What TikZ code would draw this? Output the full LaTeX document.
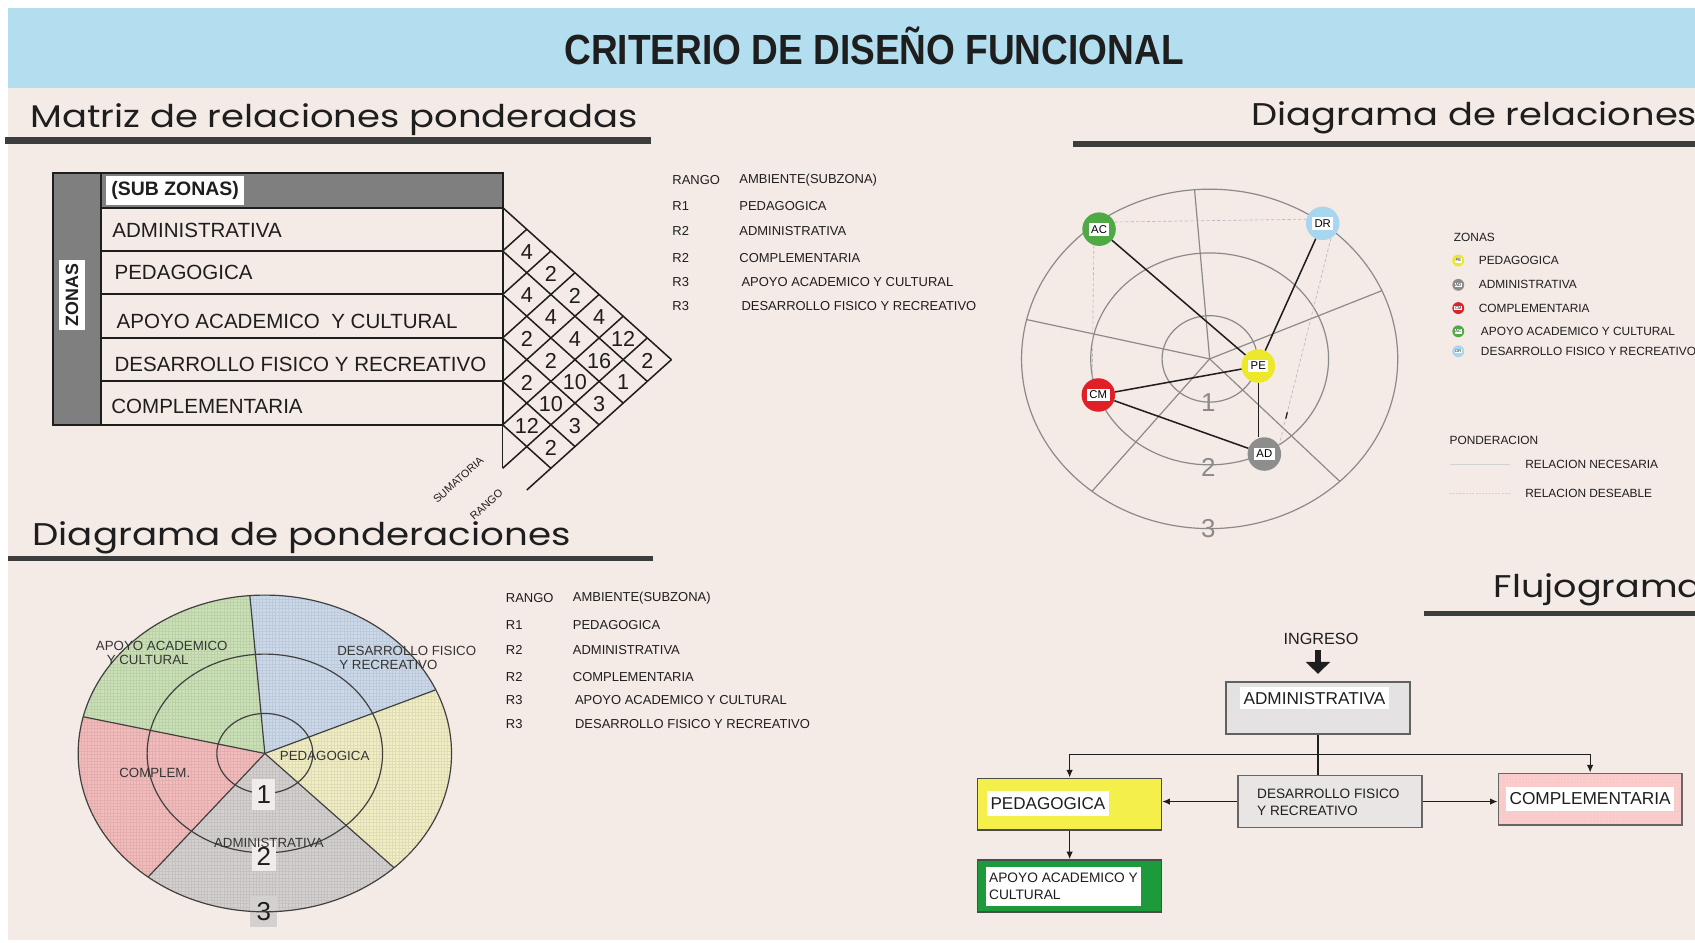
\documentclass[tikz,border=0pt]{standalone}
\usepackage{fontspec}
\usepackage{graphicx}
\setmainfont{Liberation Sans}
\newfontfamily\headfont{Poppins}
\usetikzlibrary{patterns,arrows.meta,calc}
\newcommand{\fsz}[1]{\fontsize{#1}{#1}\selectfont}
\newcommand{\zlab}[2]{\setlength{\fboxsep}{#2}\colorbox{white}{#1}}
\definecolor{bgbeige}{HTML}{F4EAE6}
\definecolor{banner}{HTML}{B3DEEF}
\definecolor{bar}{HTML}{3D3D3D}
\definecolor{tgray}{HTML}{7F7F7F}
\definecolor{ink}{HTML}{1E1E1E}
\definecolor{rgray}{HTML}{8A8A8A}
\definecolor{zgreen}{HTML}{4FAA45}
\definecolor{zblue}{HTML}{A8D6EE}
\definecolor{zyellow}{HTML}{EDE92A}
\definecolor{zred}{HTML}{E11F26}
\definecolor{zgray}{HTML}{8D8D8D}
\definecolor{pgreen}{HTML}{CAE1B6}
\definecolor{pblue}{HTML}{CBD9EA}
\definecolor{pyellow}{HTML}{F1EEC4}
\definecolor{pred}{HTML}{F3BBBB}
\definecolor{pgray}{HTML}{D4D0D0}
\definecolor{boxlight}{HTML}{F1ECEA}
\definecolor{fyellow}{HTML}{F4EF4A}
\definecolor{fgreen}{HTML}{1D9A3B}
\definecolor{fpink}{HTML}{F5CACA}
\definecolor{fgray}{HTML}{E5E1E0}
\definecolor{fgraylt}{HTML}{E8E5E4}
\begin{document}
\begin{tikzpicture}[x=1pt,y=-1pt,
  txt/.style={inner sep=0pt, outer sep=0pt, text=ink},
  leg/.style={txt, anchor=west, font=\fsz{12}},
  leg2/.style={txt, anchor=west, font=\fsz{11}},
  tline/.style={draw=ink, line width=1.8pt},
  mline/.style={draw=ink, line width=1.4pt},
  num/.style={txt, font=\fsz{20}},
  rline/.style={draw=rgray, line width=1.1pt},
  pline/.style={draw=ink!85, line width=1.1pt},
  zone/.style={circle, fill=#1, minimum size=31pt, inner sep=0pt, font=\fsz{10.5}},
  zsmall/.style={circle, fill=#1, minimum size=11pt, inner sep=0pt, font=\fsz{3.8}},
  redge/.style={draw=ink, line width=1.4pt},
  sedge/.style={draw=gray!55, line width=0.6pt, dash pattern=on 3pt off 2pt},
  pnum/.style={txt, font=\fsz{24}},
  plab/.style={txt, anchor=west, font=\fsz{12.3}, text=ink!90},
  flowbox/.style={draw=ink!80, line width=1.3pt, minimum width=170pt, minimum height=48pt, inner sep=0pt},
  ftext/.style={txt, anchor=west, fill=white},
  fline/.style={draw=ink, line width=1.2pt},
  farrow/.style={fline, -{Latex[length=7pt,width=6pt]}}
]
\useasboundingbox (0,0) rectangle (1568,872);
% background
\fill[white] (0,0) rectangle (1568,872);
\fill[bgbeige] (7,78) rectangle (1568,870);
\fill[banner] (7,7) rectangle (1568,81);

% title
\node[txt, anchor=base] (title) at (808.5,59.5) {\resizebox{573pt}{\height}{\fsz{39}\bfseries CRITERIO DE DISEÑO FUNCIONAL}};

% headings
\node[txt, anchor=base west] (h1) at (28,118) {\resizebox{562pt}{\height}{\headfont\fsz{29}Matriz de relaciones ponderadas}};
\fill[bar] (5,127) rectangle (602,133);
\node[txt, anchor=base west] (h2) at (1158,116) {\resizebox{412pt}{\height}{\headfont\fsz{29}Diagrama de relaciones}};
\fill[bar] (993,130) rectangle (1568,136);
\node[txt, anchor=base west] (h3) at (30,505) {\resizebox{498pt}{\height}{\headfont\fsz{29}Diagrama de ponderaciones}};
\fill[bar] (7,514) rectangle (604,519);
\node[txt, anchor=base west] (h4) at (1382,553) {\resizebox{193pt}{\height}{\headfont\fsz{29}Flujograma}};
\fill[bar] (1317,565) rectangle (1568,570);

% ---------------- matrix ----------------
\fill[tgray] (49,160) rectangle (93,393);
\fill[tgray] (93,160) rectangle (465,192);
\draw[tline] (49,160) rectangle (465,393);
\draw[tline] (93,160) -- (93,393);
\foreach \yy in {192,232.2,272.4,312.6,352.8} \draw[tline] (93,\yy) -- (465,\yy);
\node[txt, fill=white, rotate=90, inner xsep=3.5pt, inner ysep=6.5pt, font=\bfseries\fsz{16.5}] (zonas) at (66.5,273) {ZONAS};
\node[txt, fill=white, anchor=west, inner xsep=5pt, inner ysep=5pt, font=\bfseries\fsz{18}] (subz) at (98,176) {(SUB ZONAS)};
\node[txt, anchor=west, font=\fsz{19}] (r1) at (104,213) {ADMINISTRATIVA};
\node[txt, anchor=west, font=\fsz{19}] (r2) at (106,252) {PEDAGOGICA};
\node[txt, anchor=west, font=\fsz{19}] (r3) at (108,297) {APOYO ACADEMICO\ \ Y CULTURAL};
\node[txt, anchor=west, font=\fsz{19}] (r4) at (106,337) {DESARROLLO FISICO Y RECREATIVO};
\node[txt, anchor=west, font=\fsz{19}] (r5) at (103,376) {COMPLEMENTARIA};
% diamond grid
\draw[mline] (465,192) -- (465,433.2);
\foreach \k in {0,...,5}
  \draw[mline] (465,{192+40.2*\k}) -- ++({(7-\k)*22.3},{(7-\k)*20.1});
\foreach \k in {1,...,6}
  \draw[mline] (465,{192+40.2*\k}) -- ++({\k*22.3},{-\k*20.1});
\draw[mline] ({465+22.3},{473.4-20.1}) -- ({465+7*22.3},{473.4-7*20.1});
\foreach \i/\j/\v in {1/2/4, 2/3/4, 3/4/2, 4/5/2, 5/6/12, 1/3/2, 2/4/4, 3/5/2, 4/6/10, 5/7/2, 1/4/2, 2/5/4, 3/6/10, 4/7/3, 1/5/4, 2/6/16, 3/7/3, 1/6/12, 2/7/1, 1/7/2}
  \node[num] (c\i\j) at ({465+(\j-\i)*22.3},{193+40.2*(\i+\j-1)/2}) {\v};
\node[txt, rotate=42, font=\fsz{10}] (suma) at (424,444) {SUMATORIA};
\node[txt, rotate=42, font=\fsz{10}] (rango) at (450,467) {RANGO};

% legend 1
\node[leg] (a0) at (622,167) {RANGO};
\node[leg] (b0) at (684,167) {AMBIENTE(SUBZONA)};
\node[leg] (a1) at (622,191) {R1};
\node[leg] (b1) at (684,191) {PEDAGOGICA};
\node[leg] (a2) at (622,214) {R2};
\node[leg] (b2) at (684,214) {ADMINISTRATIVA};
\node[leg] (a3) at (622,239) {R2};
\node[leg] (b3) at (684,239) {COMPLEMENTARIA};
\node[leg] (a4) at (622,261) {R3};
\node[leg] (b4) at (686,261) {APOYO ACADEMICO Y CULTURAL};
\node[leg] (a5) at (622,283) {R3};
\node[leg] (b5) at (686,283) {DESARROLLO FISICO Y RECREATIVO};

% ---------------- relations diagram ----------------
\coordinate (rc) at (1119,332);
\draw[rline] (rc) ellipse [x radius=44pt, y radius=40pt];
\draw[rline] (rc) ellipse [x radius=110pt, y radius=98pt];
\draw[rline] (rc) ellipse [x radius=174pt, y radius=157pt];
\foreach \a in {23.7,94.6,166.6,231.3,313.8}
  \draw[rline] (rc) -- ($(rc)+(\a:174pt and 157pt)$);
\node[txt, font=\fsz{24}, text=rgray] (n1) at (1117.8,372.5) {1};
\node[txt, font=\fsz{24}, text=rgray] (n2) at (1117.8,432.6) {2};
\node[txt, font=\fsz{24}, text=rgray] (n3) at (1117.8,488.8) {3};
\node[zone=zgreen] (ac) at (1016.7,212) {\zlab{AC}{2.2pt}};
\node[zone=zblue] (dr) at (1223.6,206.6) {\zlab{DR}{2.2pt}};
\node[zone=zyellow] (pe) at (1164,338.6) {\zlab{PE}{2.2pt}};
\node[zone=zred] (cm) at (1016,365.4) {\zlab{CM}{2.2pt}};
\node[zone=zgray] (ad) at (1169.6,420) {\zlab{AD}{2.2pt}};
\draw[sedge] (ac.25) -- (dr.166);
\draw[sedge] (ac.252) -- (cm.111);
\draw[sedge] (dr.-61) -- (ad.30) coordinate[pos=0.84] (mk1) coordinate[pos=0.87] (mk2);
\draw[ink, line width=1.2pt] (mk1) -- (mk2);
\draw[redge] (ac) -- (pe);
\draw[redge] (dr) -- (pe);
\draw[redge] (cm) -- (pe);
\draw[redge] (pe.south) -- (pe.south |- ad.north);
\draw[redge] (cm) -- (ad);

% legend zonas
\node[leg2] (lz) at (1345,220) {ZONAS};
\node[zsmall=zyellow] (lz1) at (1349,241) {\zlab{PE}{0.7pt}};
\node[zsmall=zgray] (lz2) at (1349,263.5) {\zlab{AD}{0.7pt}};
\node[zsmall=zred] (lz3) at (1349,285) {\zlab{CM}{0.7pt}};
\node[zsmall=zgreen] (lz4) at (1349,306.5) {\zlab{AC}{0.7pt}};
\node[zsmall=zblue] (lz5) at (1349,325) {\zlab{DR}{0.7pt}};
\node[leg2] (lt1) at (1368,241) {PEDAGOGICA};
\node[leg2] (lt2) at (1368,263.5) {ADMINISTRATIVA};
\node[leg2] (lt3) at (1368,285) {COMPLEMENTARIA};
\node[leg2] (lt4) at (1370,306.5) {APOYO ACADEMICO Y CULTURAL};
\node[leg2] (lt5) at (1370,325) {DESARROLLO FISICO Y RECREATIVO};
\node[leg2] (lp) at (1341,407) {PONDERACION};
\node[leg2] (lp1) at (1411,430) {RELACION NECESARIA};
\node[leg2] (lp2) at (1411,456) {RELACION DESEABLE};
\coordinate (ls1) at (1341,430);
\coordinate (ls2) at (1341,456);
\draw[draw=gray!35, line width=0.7pt] (ls1) -- ($(ls1 -| lp1.west)+(-14,0)$);
\draw[draw=gray!35, line width=0.7pt, dash pattern=on 2pt off 1pt] (ls2) -- ($(ls2 -| lp2.west)+(-14,0)$);

% ---------------- pie diagram ----------------
\coordinate (pc) at (245,697);
\foreach \a/\b/\c in {-46.2/23.7/pyellow, 23.7/94.6/pblue, 94.6/166.6/pgreen, 166.6/231.3/pred, 231.3/313.8/pgray}
  \path[preaction={fill=\c}, pattern=grid, pattern color=\c!93!black]
    (pc) -- ($(pc)+(\a:172.7pt and 146.5pt)$) arc[start angle=\a, end angle=\b, x radius=172.7pt, y radius=146.5pt] -- cycle;
\node[pnum, fill=pgray, minimum width=25pt, minimum height=29pt] (p3) at (244,843) {3};
\foreach \a in {23.7,94.6,166.6,231.3,313.8}
  \draw[pline] (pc) -- ($(pc)+(\a:172.7pt and 146.5pt)$);
\draw[pline] (pc) ellipse [x radius=44.4pt, y radius=37pt];
\draw[pline] (pc) ellipse [x radius=108.9pt, y radius=91.9pt];
\draw[pline] (pc) ellipse [x radius=172.7pt, y radius=146.5pt];
\node[pnum, fill=boxlight, minimum width=21pt, minimum height=28pt] (p1) at (244,735) {1};
\node[pnum, fill=boxlight, minimum width=22pt, minimum height=28pt] (p2) at (244,792) {2};
\node[plab, align=left, font=\fontsize{12.3}{13.2}\selectfont] (pl1) at (88.8,604) {APOYO ACADEMICO\\\hspace*{10pt}Y CULTURAL};
\node[plab, align=left, font=\fontsize{12.3}{13.2}\selectfont] (pl2) at (312,608.5) {DESARROLLO FISICO\\\hspace*{2pt}Y RECREATIVO};
\node[plab] (pl3) at (259,699) {PEDAGOGICA};
\node[plab] (pl4) at (110.4,714.8) {COMPLEM.};
\node[plab] (pl5) at (198,779.5) {ADMINISTRATIVA};

% legend 2
\node[leg] (c0) at (468,553) {RANGO};
\node[leg] (d0) at (530,553) {AMBIENTE(SUBZONA)};
\node[leg] (c1) at (468,578) {R1};
\node[leg] (d1) at (530,578) {PEDAGOGICA};
\node[leg] (c2) at (468,601) {R2};
\node[leg] (d2) at (530,601) {ADMINISTRATIVA};
\node[leg] (c3) at (468,626) {R2};
\node[leg] (d3) at (530,626) {COMPLEMENTARIA};
\node[leg] (c4) at (468,648) {R3};
\node[leg] (d4) at (532,648) {APOYO ACADEMICO Y CULTURAL};
\node[leg] (c5) at (468,670) {R3};
\node[leg] (d5) at (532,670) {DESARROLLO FISICO Y RECREATIVO};

% ---------------- flowchart ----------------
\node[flowbox, draw=ink!70, preaction={fill=fgray}, pattern=grid, pattern color=gray!22] (adm) at (1219.2,655) {};
\node[flowbox, fill=fyellow] (ped) at (989.5,743.9) {};
\node[flowbox, fill=fgraylt, draw=gray!80!black] (des) at (1230.3,741.5) {};
\node[flowbox, draw=gray!80!black, preaction={fill=fpink}, pattern=grid, pattern color=red!20] (com) at (1471,739.3) {};
\node[flowbox, fill=fgreen] (apo) at (989.5,819.5) {};
\node[ftext, inner xsep=3.4pt, inner ysep=4.5pt, font=\fsz{15.9}] (admt) at (1147,646) {ADMINISTRATIVA};
\node[ftext, inner xsep=3.3pt, inner ysep=5.8pt, font=\fsz{15.8}] (pedt) at (913,743.5) {PEDAGOGICA};
\node[ftext, inner xsep=3.4pt, inner ysep=5.4pt, font=\fsz{16}] (comt) at (1393,739) {COMPLEMENTARIA};
\node[ftext, inner xsep=3pt, inner ysep=5.5pt, align=left, font=\fontsize{12.7}{15.5}\selectfont] (apot) at (912,820) {APOYO ACADEMICO Y\\CULTURAL};
\node[txt, anchor=west, align=left, font=\fontsize{12.6}{15.5}\selectfont] (dest) at (1163,742) {DESARROLLO FISICO\\Y RECREATIVO};
\node[txt, font=\fsz{15}] (ing) at (1222,591) {INGRESO};
\draw[ink, line width=5pt, -{Triangle[width=22pt,length=11pt]}, shorten <=5pt, shorten >=7pt] (ing.south -| adm.north) -- (adm.north);
\coordinate (hy) at (0,697.8);
\draw[fline] (adm.south) -- (adm.south |- des.north);
\draw[farrow] (adm.south |- hy) -| (ped.north);
\draw[farrow] (adm.south |- hy) -| (com.north);
\draw[farrow] (des.west) -- (des.west -| ped.east);
\draw[farrow] (des.east) -- (des.east -| com.west);
\draw[farrow] (ped.south) -- (apo.north);
\end{tikzpicture}
\end{document}
